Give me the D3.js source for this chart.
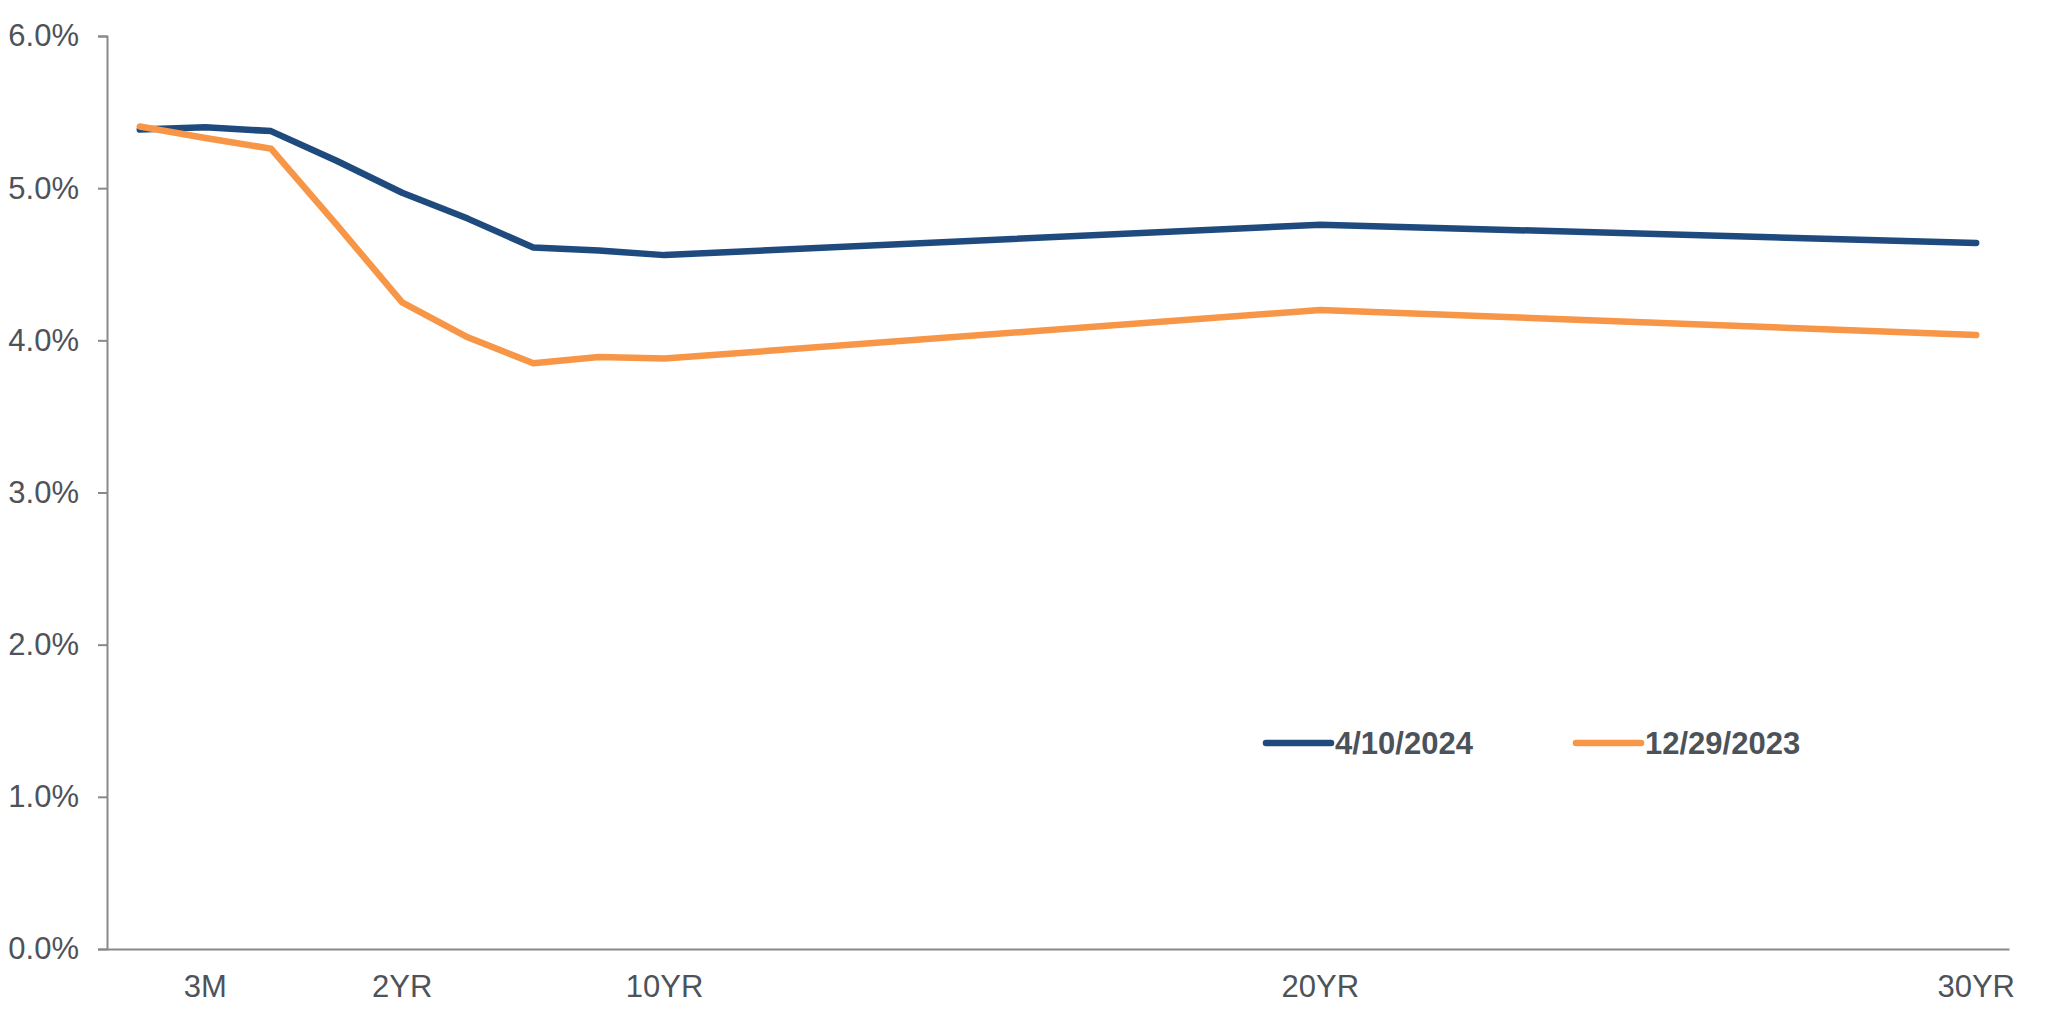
<!DOCTYPE html>
<html>
<head>
<meta charset="utf-8">
<script src="https://cdn.jsdelivr.net/npm/d3@7"></script>
<style>
  body { margin: 0; background: #fff; }
  text { font-family: "Liberation Sans", Arial, sans-serif; }
</style>
</head>
<body>
<div id="chart"></div>
<script>
// tenors on the category axis (only some are labelled)
const tenors = ["1M", "3M", "6M", "1YR", "2YR", "3YR", "5YR", "7YR", "10YR",
  "11YR", "12YR", "13YR", "14YR", "15YR", "16YR", "17YR", "18YR", "19YR", "20YR",
  "21YR", "22YR", "23YR", "24YR", "25YR", "26YR", "27YR", "28YR", "29YR", "30YR"];
const shownLabels = ["3M", "2YR", "10YR", "20YR", "30YR"];

// yields in %, null = no observation (line connects across the gap)
const apr2024 = [5.385, 5.40, 5.375, 5.18, 4.97, 4.80, 4.61, 4.59, 4.56,
  null, null, null, null, null, null, null, null, null, 4.76,
  null, null, null, null, null, null, null, null, null, 4.64];
const dec2023 = [5.405, 5.33, 5.26, 4.76, 4.25, 4.02, 3.85, 3.89, 3.88,
  null, null, null, null, null, null, null, null, null, 4.20,
  null, null, null, null, null, null, null, null, null, 4.035];

const yTicks = [0, 1, 2, 3, 4, 5, 6];

const series = [
  {name: "4/10/2024", values: apr2024, color: "#1f4a7e"},
  {name: "12/29/2023", values: dec2023, color: "#f79646"}
];

let width = 2048;
let height = 1031;
let margin = {top: 36, bottom: 82, left: 107, right: 39};

let svg = d3.select('#chart')
            .append('svg')
            .attr('width', width)
            .attr('height', height);

let xScale = d3.scaleBand()
              .domain(tenors)
              .range([margin.left, width - margin.right])
              .padding(0);

let yScale = d3.scaleLinear()
              .domain([0, 6])
              .range([height - margin.bottom, margin.top]);

// y axis
let yAxis = svg.append('g')
            .attr('transform', `translate(${margin.left}, 0)`)
            .call(d3.axisLeft(yScale)
                    .tickValues(yTicks)
                    .tickFormat(d => d.toFixed(1) + '%')
                    .tickSize(9)
                    .tickPadding(19));
yAxis.selectAll('path, line').attr('stroke', '#898989').attr('stroke-width', 2);
yAxis.selectAll('text')
     .attr('fill', '#4d5359')
     .style('font-size', '31px')
     .style('font-family', '"Liberation Sans", Arial, sans-serif');

// x axis
let xAxis = svg.append('g')
            .attr('transform', `translate(0, ${height - margin.bottom})`)
            .call(d3.axisBottom(xScale)
                    .tickValues(shownLabels)
                    .tickSize(0)
                    .tickSizeOuter(0)
                    .tickPadding(26));
xAxis.select('path').attr('stroke', '#898989').attr('stroke-width', 2);
xAxis.selectAll('text')
     .attr('fill', '#4d5359')
     .style('font-size', '31px')
     .style('font-family', '"Liberation Sans", Arial, sans-serif');

// lines
let line = d3.line()
    .x(d => xScale(d.tenor) + xScale.bandwidth() / 2)
    .y(d => yScale(d.value));

series.forEach(s => {
  const pts = tenors.map((t, i) => ({tenor: t, value: s.values[i]}))
                    .filter(d => d.value !== null);
  svg.append('path')
     .datum(pts)
     .attr('fill', 'none')
     .attr('stroke', s.color)
     .attr('stroke-width', 6.5)
     .attr('stroke-linejoin', 'round')
     .attr('stroke-linecap', 'round')
     .attr('d', line);
});

// legend
const legendX = [1266, 1576];
series.forEach((s, i) => {
  const g = svg.append('g').attr('transform', `translate(${legendX[i]}, 743)`);
  g.append('line')
   .attr('x1', 0).attr('x2', 65)
   .attr('y1', 0).attr('y2', 0)
   .attr('stroke', s.color)
   .attr('stroke-width', 6.5)
   .attr('stroke-linecap', 'round');
  g.append('text')
   .attr('x', 69)
   .attr('y', 11)
   .attr('fill', '#4b5259')
   .style('font-size', '31px')
   .style('font-weight', 'bold')
   .text(s.name);
});
</script>
</body>
</html>
